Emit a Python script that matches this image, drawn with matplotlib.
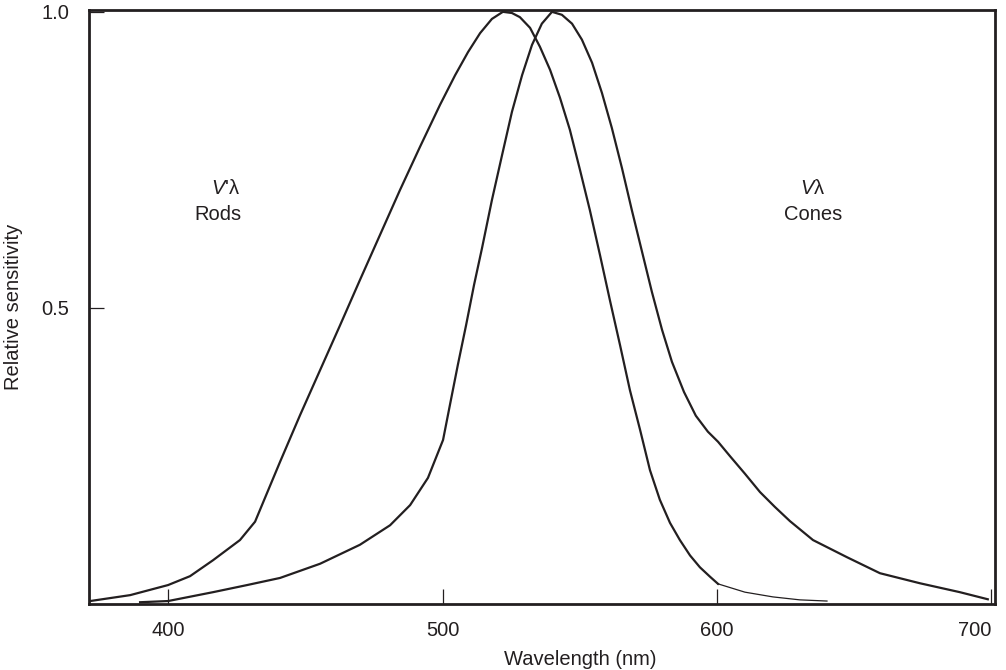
import matplotlib

matplotlib.use("Agg")
import matplotlib.pyplot as plt

INK = "#231f20"

plt.rcParams["font.family"] = ["Liberation Sans", "DejaVu Sans"]
plt.rcParams["mathtext.fontset"] = "custom"
plt.rcParams["mathtext.it"] = "Liberation Sans:italic"
plt.rcParams["mathtext.rm"] = "Liberation Sans"

# Rods (scotopic) curve, main part up to 600 nm
rodsNm = [371.6, 386.2, 400.0, 408.0, 416.4, 426.2, 431.7, 435.3, 440.8, 448.1,
          455.4, 462.7, 469.9, 477.2, 484.5, 491.8, 499.1, 504.6, 509.3, 513.7,
          518.0, 522.0, 525.3, 528.2, 531.9, 535.5, 539.2, 542.8, 546.4, 550.1,
          553.7, 557.4, 561.0, 564.7, 568.3, 572.0, 575.6, 579.2, 582.9, 586.5,
          590.2, 593.8, 597.5, 600.4]
rodsVal = [0.005, 0.015, 0.032, 0.047, 0.074, 0.108, 0.139, 0.179, 0.240, 0.319,
           0.395, 0.471, 0.547, 0.623, 0.699, 0.772, 0.843, 0.893, 0.932, 0.964,
           0.988, 1.000, 0.998, 0.991, 0.973, 0.941, 0.902, 0.855, 0.801, 0.733,
           0.665, 0.589, 0.513, 0.437, 0.361, 0.294, 0.226, 0.176, 0.137, 0.108,
           0.082, 0.062, 0.046, 0.034]
# thin tail of the rods curve
rodsTailNm = [600.4, 610.2, 620.4, 630.2, 640.1]
rodsTailVal = [0.034, 0.020, 0.012, 0.007, 0.005]

# Cones (photopic) curve
conesNm = [389.8, 400.0, 416.4, 428.8, 440.8, 455.4, 469.9, 480.9, 488.2, 494.7,
           500.2, 502.7, 505.6, 508.6, 511.5, 514.4, 518.0, 521.7, 525.3, 529.0,
           532.6, 536.2, 539.9, 543.5, 547.2, 550.8, 554.5, 558.1, 561.7, 565.4,
           569.0, 572.7, 576.3, 580.0, 583.6, 588.0, 592.3, 596.7, 600.4, 604.7,
           610.2, 615.7, 621.1, 626.6, 635.0, 647.4, 659.4, 674.0, 688.5, 698.7]
conesVal = [0.003, 0.005, 0.020, 0.032, 0.044, 0.068, 0.100, 0.133, 0.167, 0.213,
            0.277, 0.336, 0.404, 0.471, 0.539, 0.601, 0.682, 0.758, 0.831, 0.893,
            0.944, 0.980, 1.000, 0.995, 0.980, 0.953, 0.914, 0.863, 0.804, 0.736,
            0.665, 0.595, 0.527, 0.463, 0.409, 0.358, 0.318, 0.291, 0.274, 0.250,
            0.220, 0.189, 0.164, 0.140, 0.108, 0.079, 0.052, 0.035, 0.020, 0.008]

xTicks = [400, 500, 600, 700]
yTicks = [0.5, 1.0]
yTickLabels = ["0.5", "1.0"]

fig = plt.figure(figsize=(10.06, 6.70), dpi=100)
ax = fig.add_axes([0.0885, 0.0985, 0.9005, 0.8865])

ax.plot(rodsNm, rodsVal, color=INK, linewidth=1.6, solid_joinstyle="round")
ax.plot(rodsTailNm, rodsTailVal, color=INK, linewidth=0.9)
ax.plot(conesNm, conesVal, color=INK, linewidth=1.6, solid_joinstyle="round")

ax.set_xlim(371.2, 701.3)
ax.set_ylim(0.0, 1.003)

for spine in ax.spines.values():
    spine.set_color(INK)
    spine.set_linewidth(2.0)

ax.set_xticks(xTicks)
ax.set_yticks(yTicks)
ax.set_yticklabels(yTickLabels)
ax.tick_params(axis="x", direction="in", length=11, width=0.9, color=INK,
               labelsize=14.5, labelcolor=INK, pad=12)
ax.tick_params(axis="y", direction="in", length=11, width=0.9, color=INK,
               labelsize=14.5, labelcolor=INK, pad=14)
# the last label sits inside the frame's right edge
ax.get_xticklabels()[-1].set_horizontalalignment("right")
for label in ax.get_yticklabels():
    label.set_verticalalignment("center_baseline")

ax.set_xlabel("Wavelength (nm)", fontsize=14.5, color=INK)
ax.xaxis.set_label_coords(0.542, -0.077)
ax.set_ylabel("Relative sensitivity", fontsize=14.5, color=INK)
ax.yaxis.set_label_coords(-0.073, 0.5)

ax.text(420.8, 0.702, r"$\mathit{V}$'λ", fontsize=14.5, color=INK, ha="center", va="center")
ax.text(418.2, 0.658, "Rods", fontsize=14.5, color=INK, ha="center", va="center")
ax.text(635.0, 0.702, r"$\mathit{V}$λ", fontsize=14.5, color=INK, ha="center", va="center")
ax.text(635.0, 0.658, "Cones", fontsize=14.5, color=INK, ha="center", va="center")

plt.savefig("out.png", dpi=100, facecolor="white")
plt.close(fig)
